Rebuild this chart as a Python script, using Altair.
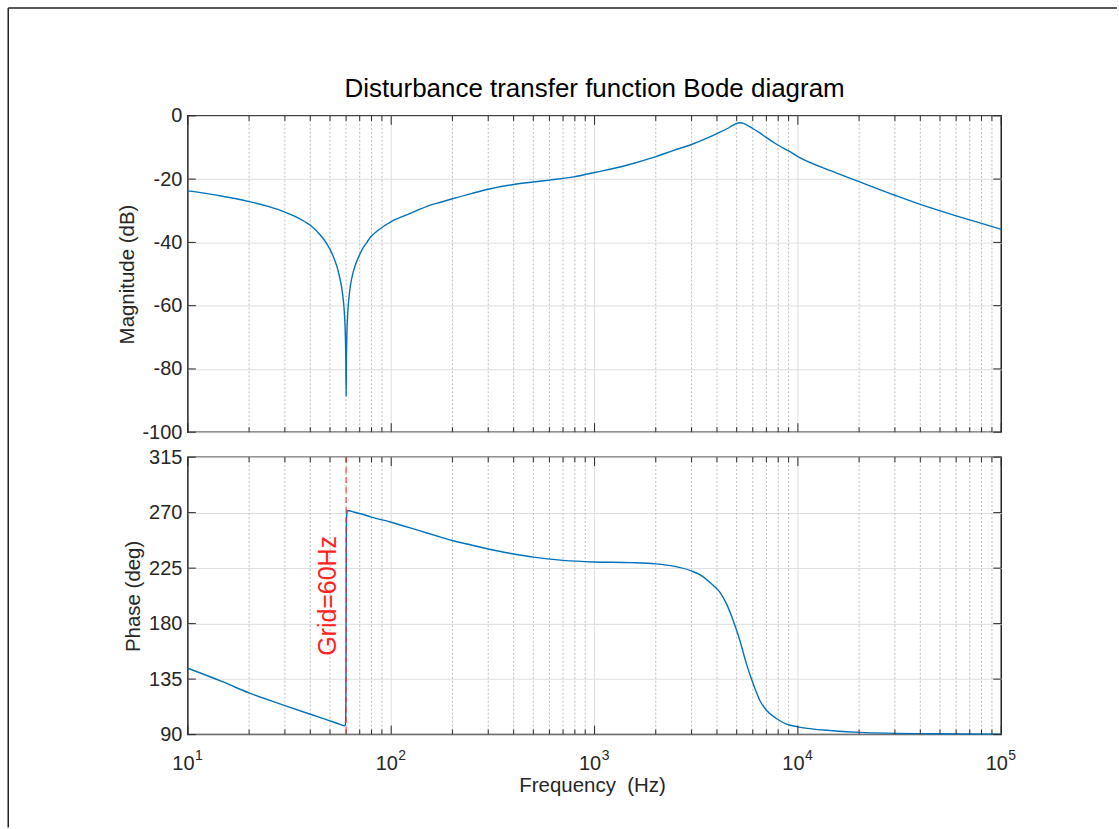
import altair as alt
import pandas as pd

# ---- frequency response samples (Hz, dB, deg) ----
mag_freq = [10, 12.5, 15, 17.5, 20, 25, 30, 35, 40, 45, 48, 50, 52, 54, 55, 56.5, 57.5,
            58, 58.5, 59, 59.5, 59.8, 60, 60.2, 60.5, 61, 61.5, 62, 63, 64, 65, 67, 70,
            72, 75, 77, 80, 85, 90, 95, 100, 110, 120, 135, 150, 175, 200, 250, 300,
            400, 500, 600, 790, 1000, 1440, 2000, 2450, 3000, 3500, 4000, 4500, 4800,
            5000, 5200, 5400, 5700, 6000, 6500, 7000, 8000, 9000, 10000, 15000, 20000,
            30000, 40000, 60000, 80000, 100000]
mag_db = [-23.7, -24.6, -25.5, -26.3, -27.1, -28.7, -30.4, -32.3, -34.6, -37.8, -40.2,
          -42.2, -44.6, -47.5, -49.4, -52.7, -55.7, -57.7, -60.1, -63.6, -69.6, -77.5,
          -88.5, -77.5, -69.5, -63.5, -59.8, -57.4, -53.6, -51.3, -49.4, -46.7, -43.8,
          -42.2, -40.5, -39.4, -38.0, -36.5, -35.3, -34.3, -33.4, -32.2, -31.2, -29.8,
          -28.6, -27.3, -26.2, -24.5, -23.2, -21.7, -20.9, -20.3, -19.3, -17.9, -15.6,
          -12.9, -10.9, -9.05, -7.3, -5.6, -4.0, -2.95, -2.4, -2.2, -2.4, -3.15, -4.0,
          -5.4, -6.9, -9.3, -11.1, -12.9, -17.7, -20.8, -25.1, -28.0, -31.6, -34.0,
          -35.9]

phase_freq = [10, 15, 20, 30, 40, 50, 55, 57.5, 58.5, 59.3, 59.6, 59.8, 59.9, 60, 60.1,
              60.3, 60.6, 61, 62, 65, 70, 80, 100, 125, 150, 175, 200, 250, 300, 400,
              500, 700, 1000, 1500, 2000, 2450, 3010, 3290, 3830, 4130, 4450, 4800, 5180,
              5580, 6020, 6490, 7000, 7830, 8780, 10000, 14860, 20000, 46000, 100000]
phase_deg = [143.8, 132.5, 123.8, 113.5, 106.5, 101.2, 98.8, 97.6, 97.2, 97.3, 99.0,
             110.0, 130.0, 185.0, 240.0, 265.0, 270.5, 271.6, 271.6, 270.6, 269.3,
             266.4, 262.2, 257.5, 253.5, 250.2, 247.4, 243.6, 240.5, 236.5, 233.9, 231.3,
             230.0, 229.5, 228.5, 226.6, 222.6, 219.8, 211.1, 205.6, 196.2, 182.7, 166.5,
             147.6, 131.4, 117.9, 109.8, 103.1, 98.5, 96.3, 93.1, 91.8, 90.7, 90.4]

# ---- axis ticks / grid positions ----
decades = [10, 100, 1000, 10000, 100000]
decade_exp = ["1", "2", "3", "4", "5"]
inner_decades = [100, 1000, 10000]
minor_freq = [m * d for d in (10, 100, 1000, 10000) for m in range(2, 10)]
mag_ticks = [-100, -80, -60, -40, -20, 0]
phase_ticks = [90, 135, 180, 225, 270, 315]
grid_freq = [60]
grid_label = ["Grid=60Hz"]

W = 815
H_MAG = 317
H_PH = 278
FONT = "Liberation Sans"
INK = "#262626"
BLUE = "#0072BD"
MINOR_LEN = 5
MAJOR_LEN = 9
Y_TICK_LEN = 8

xscale = alt.Scale(type="log", domain=[10, 100000], nice=False)

mag_df = pd.DataFrame({"f": mag_freq, "v": mag_db})
phase_df = pd.DataFrame({"f": phase_freq, "v": phase_deg})
minor_df = pd.DataFrame({"f": minor_freq})
major_df = pd.DataFrame({"f": decades})
inner_df = pd.DataFrame({"f": inner_decades})
dec_lab_df = pd.DataFrame({"f": decades, "base": ["10"] * len(decades), "exp": decade_exp})
one_row = pd.DataFrame({"k": [0]})


def X():
    return alt.X("f:Q", scale=xscale, axis=None)


def panel(curve_df, yscale, ytick_vals, title, H, title_x):
    yaxis = alt.Axis(values=ytick_vals, grid=True, ticks=False, tickSize=0, domain=False,
                     labelPadding=6, labelFlush=False, labelOverlap=False,
                     labelExpr="'' + datum.value", title=title, titleAngle=270,
                     titleAlign="center", titleBaseline="middle", titleX=title_x,
                     titleY=H / 2)

    def Y():
        return alt.Y("v:Q", scale=yscale, axis=yaxis)

    ytick_df = pd.DataFrame({"v": ytick_vals})

    minor_grid = alt.Chart(minor_df).mark_rule(
        color="#bdbdbd", strokeWidth=1, strokeDash=[2, 2]
    ).encode(x=X(), y=alt.value(0), y2=alt.value(H))
    major_grid = alt.Chart(inner_df).mark_rule(
        color="#dedede", strokeWidth=1
    ).encode(x=X(), y=alt.value(0), y2=alt.value(H))

    curve = alt.Chart(curve_df).mark_line(
        color=BLUE, strokeWidth=1.4, interpolate="monotone"
    ).encode(x=X(), y=Y())

    tick_style = dict(color=INK, strokeWidth=1)
    layers = [minor_grid, major_grid, curve]
    for df, ln in ((minor_df, MINOR_LEN), (major_df, MAJOR_LEN)):
        layers.append(alt.Chart(df).mark_rule(**tick_style).encode(
            x=X(), y=alt.value(0), y2=alt.value(ln)))
        layers.append(alt.Chart(df).mark_rule(**tick_style).encode(
            x=X(), y=alt.value(H), y2=alt.value(H - ln)))
    layers.append(alt.Chart(ytick_df).mark_rule(**tick_style).encode(
        y=Y(), x=alt.value(0), x2=alt.value(Y_TICK_LEN)))
    layers.append(alt.Chart(ytick_df).mark_rule(**tick_style).encode(
        y=Y(), x=alt.value(W), x2=alt.value(W - Y_TICK_LEN)))
    return layers


mag_scale = alt.Scale(domain=[-100, 0], nice=False, zero=False)
phase_scale = alt.Scale(domain=[90, 315], nice=False, zero=False)

# ---- magnitude panel ----
top_layers = panel(mag_df, mag_scale, mag_ticks, "Magnitude (dB)", H_MAG, -60)
top_layers.append(alt.Chart(one_row).mark_text(
    text="Disturbance transfer function Bode diagram", font=FONT, fontSize=26,
    color="#000000", align="center", baseline="alphabetic"
).encode(x=alt.value(W / 2), y=alt.value(-19)))
# outer figure border (top and left edges)
top_layers.append(alt.Chart(one_row).mark_rule(color="#222222", strokeWidth=1.5).encode(
    x=alt.value(-180), x2=alt.value(931), y=alt.value(-108)))
top_layers.append(alt.Chart(one_row).mark_rule(color="#222222", strokeWidth=1.5).encode(
    x=alt.value(-180), y=alt.value(-108), y2=alt.value(713)))
top = alt.layer(*top_layers).properties(width=W, height=H_MAG)

# ---- phase panel ----
bot_layers = panel(phase_df, phase_scale, phase_ticks, "Phase (deg)", H_PH, -54)
grid_df = pd.DataFrame({"f": grid_freq, "label": grid_label})
bot_layers.append(alt.Chart(grid_df).mark_rule(
    color="#ff2020", strokeWidth=1, strokeDash=[6, 4]
).encode(x=X(), y=alt.value(0), y2=alt.value(H_PH)))
bot_layers.append(alt.Chart(grid_df).mark_text(
    font=FONT, fontSize=25, color="#ff2020", angle=270, align="center",
    baseline="middle", dy=-18.5
).encode(x=X(), y=alt.value(H_PH / 2), text="label:N"))
bot_layers.append(alt.Chart(dec_lab_df).mark_text(
    font=FONT, fontSize=20, color=INK, align="center", baseline="alphabetic", dx=-4.5
).encode(x=X(), y=alt.value(H_PH + 35), text="base:N"))
bot_layers.append(alt.Chart(dec_lab_df).mark_text(
    font=FONT, fontSize=14, color=INK, align="center", baseline="alphabetic", dx=11
).encode(x=X(), y=alt.value(H_PH + 25), text="exp:N"))
bot_layers.append(alt.Chart(one_row).mark_text(
    text="Frequency \u00a0(Hz)", font=FONT, fontSize=20.5, color=INK,
    align="center", baseline="alphabetic"
).encode(x=alt.value(W / 2 - 2), y=alt.value(H_PH + 58)))
bottom = alt.layer(*bot_layers).properties(width=W, height=H_PH)

chart = alt.vconcat(top, bottom, spacing=25, bounds="flush").properties(
    padding={"left": 6.25, "top": 5.25, "right": 0, "bottom": 0},
    background="white",
).configure_view(
    stroke=INK, strokeWidth=1.5
).configure_axis(
    labelFont=FONT, titleFont=FONT, labelColor=INK, titleColor=INK,
    labelFontSize=20, titleFontSize=20.5, titleFontWeight="normal",
    gridColor="#dedede", gridWidth=1,
)

chart.save("out.html", embed_options={"renderer": "svg", "actions": False})
